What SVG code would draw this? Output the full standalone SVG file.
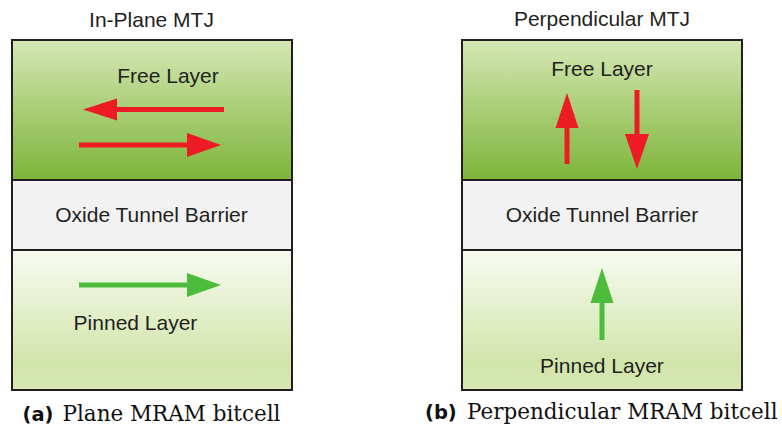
<svg xmlns="http://www.w3.org/2000/svg" width="782" height="430" viewBox="0 0 782 430">
  <defs>
    <linearGradient id="gFree" x1="0" y1="0" x2="0" y2="1">
      <stop offset="0" stop-color="#d5e8b4"/>
      <stop offset="1" stop-color="#7db439"/>
    </linearGradient>
    <linearGradient id="gPinned" x1="0" y1="0" x2="0" y2="1">
      <stop offset="0" stop-color="#f8fbf1"/>
      <stop offset="0.8" stop-color="#d2e5ab"/>
      <stop offset="1" stop-color="#d6e8b3"/>
    </linearGradient>
    <style>
      .layer { stroke: #231f20; stroke-width: 2; }
      .free { fill: url(#gFree); }
      .oxide { fill: #f2f2f2; }
      .pinned { fill: url(#gPinned); }
      .lbl { font-family: "Liberation Sans", Arial, sans-serif; font-size: 21px; fill: #231f20; text-anchor: middle; }
      .red { fill: #ed1c24; }
      .redS { stroke: #ed1c24; stroke-width: 5; fill: none; }
      .grn { fill: #4cbc3c; }
      .grnS { stroke: #4cbc3c; stroke-width: 5; fill: none; }
      .capB { font-family: "DejaVu Sans", sans-serif; font-weight: bold; font-size: 19.5px; fill: #111; }
      .capS { font-family: "DejaVu Serif", serif; font-size: 21.5px; fill: #111; }
    </style>
  </defs>
  <rect width="782" height="430" fill="#ffffff"/>

  <text class="lbl" x="151.5" y="27">In-Plane MTJ</text>
  <text class="lbl" x="602" y="26">Perpendicular MTJ</text>

  <g id="a-free">
    <rect class="layer free" x="12" y="40" width="280" height="140"/>
    <text class="lbl" x="168" y="83">Free Layer</text>
    <line class="redS" x1="224" y1="109.5" x2="114" y2="109.5"/>
    <polygon class="red" points="83,109.5 117,98.5 117,120.5"/>
    <line class="redS" x1="79" y1="145" x2="190" y2="145"/>
    <polygon class="red" points="221,145 187,133 187,157"/>
  </g>
  <g id="a-oxide">
    <rect class="layer oxide" x="12" y="180" width="280" height="70"/>
    <text class="lbl" x="151.5" y="222">Oxide Tunnel Barrier</text>
  </g>
  <g id="a-pinned">
    <rect class="layer pinned" x="12" y="250" width="280" height="140"/>
    <line class="grnS" x1="79" y1="285" x2="190" y2="285"/>
    <polygon class="grn" points="221,285 187,273 187,297"/>
    <text class="lbl" x="135.5" y="330">Pinned Layer</text>
  </g>

  <g id="b-free">
    <rect class="layer free" x="462" y="40" width="280" height="140"/>
    <text class="lbl" x="602" y="76">Free Layer</text>
    <line class="redS" x1="567" y1="164" x2="567" y2="125"/>
    <polygon class="red" points="567,93 555.5,128 578.5,128"/>
    <line class="redS" x1="637" y1="90" x2="637" y2="137"/>
    <polygon class="red" points="637,169 625,134 649,134"/>
  </g>
  <g id="b-oxide">
    <rect class="layer oxide" x="462" y="180" width="280" height="70"/>
    <text class="lbl" x="602" y="222">Oxide Tunnel Barrier</text>
  </g>
  <g id="b-pinned">
    <rect class="layer pinned" x="462" y="250" width="280" height="140"/>
    <line class="grnS" x1="602" y1="340" x2="602" y2="300"/>
    <polygon class="grn" points="602,268 590.5,303 613.5,303"/>
    <text class="lbl" x="602" y="373">Pinned Layer</text>
  </g>

  <g id="connectors"></g>

  <text x="22.5" y="421"><tspan class="capB">(a)</tspan><tspan class="capS" x="62.5">Plane MRAM bitcell</tspan></text>
  <text x="425" y="419"><tspan class="capB">(b)</tspan><tspan class="capS" x="467">Perpendicular MRAM bitcell</tspan></text>
</svg>
